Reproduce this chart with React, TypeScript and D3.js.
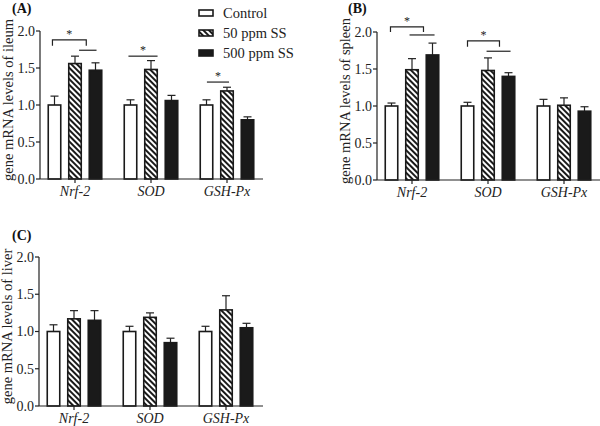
import React from "react";
import * as d3 from "d3";

const categories = ["Nrf-2", "SOD", "GSH-Px"];
const seriesNames = ["Control", "50 ppm SS", "500 ppm SS"];
const yTicks = [0, 0.5, 1.0, 1.5, 2.0];

// panel A (ileum)
const ileumMean = [
  [1.0, 1.56, 1.47],
  [1.0, 1.48, 1.06],
  [1.0, 1.19, 0.8],
];
const ileumErr = [
  [0.12, 0.1, 0.1],
  [0.07, 0.12, 0.07],
  [0.07, 0.05, 0.04],
];
// panel B (spleen)
const spleenMean = [
  [1.0, 1.49, 1.69],
  [1.0, 1.48, 1.4],
  [1.0, 1.01, 0.93],
];
const spleenErr = [
  [0.04, 0.15, 0.16],
  [0.05, 0.17, 0.05],
  [0.09, 0.1, 0.06],
];
// panel C (liver)
const liverMean = [
  [1.0, 1.17, 1.15],
  [1.0, 1.19, 0.85],
  [1.0, 1.29, 1.05],
];
const liverErr = [
  [0.09, 0.11, 0.13],
  [0.07, 0.06, 0.06],
  [0.07, 0.19, 0.06],
];

// significance marks: category index, kind, from/to series position, y value, tick drop
type Sig = { cat: number; kind: "bracket" | "line"; from: number; to: number; y: number; drop?: number; star?: boolean };
const ileumSig: Sig[] = [
  { cat: 0, kind: "bracket", from: -0.1, to: 1.55, y: 1.88, drop: 0.08, star: true },
  { cat: 0, kind: "line", from: 1.2, to: 2.05, y: 1.74 },
  { cat: 1, kind: "line", from: -0.1, to: 1.32, y: 1.66, star: true },
  { cat: 2, kind: "line", from: 0.02, to: 1.1, y: 1.31, star: true },
];
const spleenSig: Sig[] = [
  { cat: 0, kind: "bracket", from: -0.05, to: 1.56, y: 2.07, drop: 0.07, star: true },
  { cat: 0, kind: "line", from: 0.88, to: 2.1, y: 1.96 },
  { cat: 1, kind: "bracket", from: 0.0, to: 1.56, y: 1.88, drop: 0.08, star: true },
  { cat: 1, kind: "line", from: 0.93, to: 2.1, y: 1.74 },
];
const liverSig: Sig[] = [];

const FONT = "'Liberation Serif', 'Times New Roman', serif";

type PanelProps = {
  label: string;
  yLabel: string;
  mean: number[][];
  err: number[][];
  sig: Sig[];
  axisX: number;
  xEnd: number;
  yTopPx: number;
  yZeroPx: number;
  labelX: number;
  labelY: number;
};

function Panel(p: PanelProps) {
  const y = d3.scaleLinear().domain([0, 2]).range([p.yZeroPx, p.yTopPx]);
  const xc = d3.scalePoint<string>().domain(categories).range([p.axisX + 35, p.axisX + 187]);
  const xs = d3.scaleLinear().domain([0, 2]).range([-20.5, 20.5]);
  const bw = 12.5;
  const fills = ["#fff", "url(#hatch)", "#1a1a1a"];
  return (
    <g>
      <text x={p.labelX} y={p.labelY} fontFamily={FONT} fontWeight="bold" fontSize={14} fill="#111">
        {p.label}
      </text>
      {/* y axis */}
      <line x1={p.axisX} x2={p.axisX} y1={p.yTopPx} y2={p.yZeroPx} stroke="#222" strokeWidth={1.2} />
      {yTicks.map((t) => (
        <g key={t}>
          <line x1={p.axisX - 4} x2={p.axisX} y1={y(t)} y2={y(t)} stroke="#222" strokeWidth={1.2} />
          <text x={p.axisX - 5} y={y(t)} dy="0.35em" textAnchor="end" fontFamily={FONT} fontSize={14} fill="#222">
            {t.toFixed(1)}
          </text>
        </g>
      ))}
      <text
        transform={`translate(${p.axisX - 27},${(p.yTopPx + p.yZeroPx) / 2 - 5}) rotate(-90)`}
        textAnchor="middle"
        fontFamily={FONT}
        fontSize={14.5}
        fill="#222"
      >
        {p.yLabel}
      </text>
      {/* bars */}
      {categories.map((c, ci) =>
        seriesNames.map((s, si) => {
          const cx = (xc(c) as number) + xs(si);
          const v = p.mean[ci][si];
          const e = p.err[ci][si];
          return (
            <g key={c + s}>
              <line x1={cx} x2={cx} y1={y(v)} y2={y(v + e)} stroke="#222" strokeWidth={1.2} />
              <line x1={cx - 4} x2={cx + 4} y1={y(v + e)} y2={y(v + e)} stroke="#222" strokeWidth={1.2} />
              <rect
                x={cx - bw / 2}
                y={y(v)}
                width={bw}
                height={y(0) - y(v)}
                fill={fills[si]}
                stroke="#1a1a1a"
                strokeWidth={1.6}
              />
            </g>
          );
        })
      )}
      {/* x axis */}
      <line x1={p.axisX} x2={p.xEnd} y1={p.yZeroPx} y2={p.yZeroPx} stroke="#222" strokeWidth={1.2} />
      {categories.map((c) => (
        <g key={c}>
          <line x1={xc(c)} x2={xc(c)} y1={p.yZeroPx} y2={p.yZeroPx + 4} stroke="#222" strokeWidth={1.2} />
          <text
            x={xc(c)}
            y={p.yZeroPx + 17}
            textAnchor="middle"
            fontFamily={FONT}
            fontStyle="italic"
            fontSize={14}
            fill="#222"
          >
            {c}
          </text>
        </g>
      ))}
      {/* significance */}
      {p.sig.map((s, i) => {
        const base = xc(categories[s.cat]) as number;
        const x1 = base + xs(s.from);
        const x2 = base + xs(s.to);
        const yy = y(s.y);
        const d =
          s.kind === "bracket"
            ? `M${x1},${y(s.y - (s.drop || 0))}V${yy}H${x2}V${y(s.y - (s.drop || 0))}`
            : `M${x1},${yy}H${x2}`;
        return (
          <g key={i}>
            <path d={d} fill="none" stroke="#222" strokeWidth={1.2} />
            {s.star && (
              <text x={(x1 + x2) / 2} y={yy - 2} textAnchor="middle" fontFamily={FONT} fontSize={12} fill="#222">
                *
              </text>
            )}
          </g>
        );
      })}
    </g>
  );
}

export default function App() {
  const legendFills = ["#fff", "url(#hatch)", "#1a1a1a"];
  return (
    <svg width={600} height={426} style={{ position: "absolute", left: 0, top: 0, background: "#fff" }}>
      <defs>
        <pattern id="hatch" width={4} height={4} patternUnits="userSpaceOnUse" patternTransform="rotate(-45)">
          <rect width={4} height={4} fill="#fff" />
          <rect width={2} height={4} fill="#1a1a1a" />
        </pattern>
      </defs>
      <rect width={600} height={426} fill="#fff" />
      <Panel
        label="(A)"
        yLabel="gene mRNA levels of ileum"
        mean={ileumMean}
        err={ileumErr}
        sig={ileumSig}
        axisX={40}
        xEnd={263}
        yTopPx={31}
        yZeroPx={179}
        labelX={12}
        labelY={13}
      />
      <Panel
        label="(B)"
        yLabel="gene mRNA levels of spleen"
        mean={spleenMean}
        err={spleenErr}
        sig={spleenSig}
        axisX={377}
        xEnd={600}
        yTopPx={32}
        yZeroPx={180}
        labelX={348}
        labelY={13}
      />
      <Panel
        label="(C)"
        yLabel="gene mRNA levels of liver"
        mean={liverMean}
        err={liverErr}
        sig={liverSig}
        axisX={39}
        xEnd={263}
        yTopPx={257}
        yZeroPx={406}
        labelX={12}
        labelY={240}
      />
      {seriesNames.map((s, i) => (
        <g key={s} transform={`translate(199,${13 + i * 20})`}>
          <rect x={0} y={-3} width={14} height={6} fill={legendFills[i]} stroke="#1a1a1a" strokeWidth={1.6} />
          <text x={24} y={0} dy="0.35em" fontFamily={FONT} fontSize={14.5} fill="#222">
            {s}
          </text>
        </g>
      ))}
    </svg>
  );
}
